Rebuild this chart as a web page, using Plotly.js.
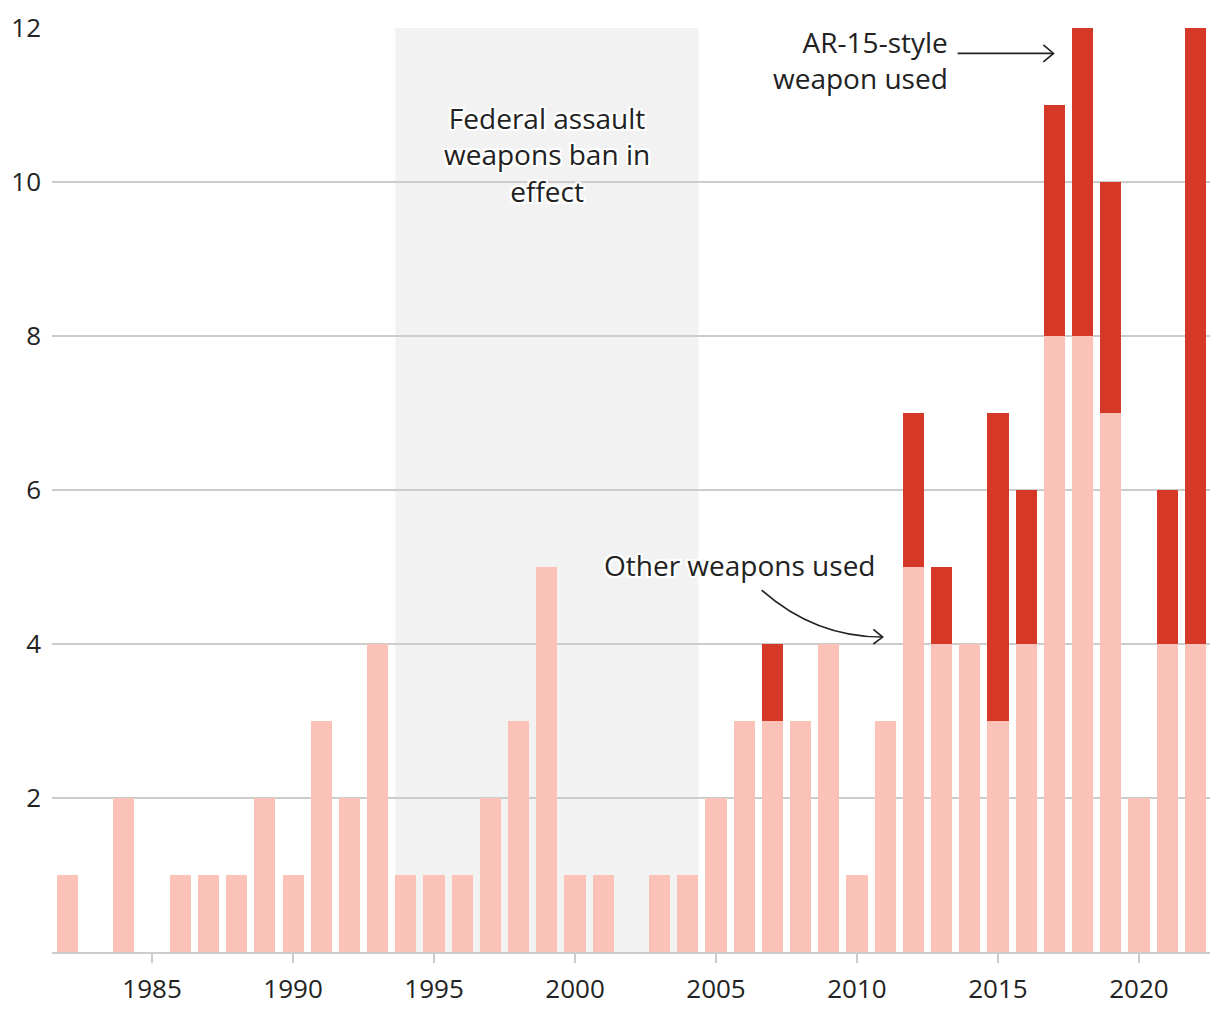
<!DOCTYPE html>
<html>
<head>
<meta charset="utf-8">
<script src="https://cdn.plot.ly/plotly-3.0.1.min.js"></script>
<style>html,body{margin:0;padding:0;background:#fff;}#chart{width:1220px;height:1020px;}</style>
</head>
<body>
<div id="chart"></div>
<script>
const years = [];
for (let y = 1982; y <= 2022; y++) years.push(y);
const otherWeapons = [1,0,2,0,1,1,1,2,1,3,2,4,1,1,1,2,3,5,1,1,0,1,1,2,3,3,3,4,1,3,5,4,4,3,4,8,8,7,2,4,4];
const ar15Weapons  = [0,0,0,0,0,0,0,0,0,0,0,0,0,0,0,0,0,0,0,0,0,0,0,0,0,1,0,0,0,0,2,1,0,4,2,3,4,3,0,2,8];
const yTicks = [2,4,6,8,10,12];
const xTicks = [1985,1990,1995,2000,2005,2010,2015,2020];
const banStart = 1994, banEnd = 2004;

const FONT = '"Open Sans", "Noto Sans", sans-serif';
const TXT = '#222';
const halo = '-2px -2px 0 #fff, 2px -2px 0 #fff, -2px 2px 0 #fff, 2px 2px 0 #fff, 0 -2px 0 #fff, 0 2px 0 #fff, -2px 0 0 #fff, 2px 0 0 #fff';
const barW = 0.75;
const TICK_SIZE = 26, ANN_SIZE = 28;

const traces = [
  {type:'bar', x: years, y: otherWeapons, width: barW, marker:{color:'#fbc3b7', line:{width:0}}, name:'Other weapons used', hoverinfo:'skip'},
  {type:'bar', x: years, y: ar15Weapons, width: barW, marker:{color:'#d63827', line:{width:0}}, name:'AR-15-style weapon used', hoverinfo:'skip'}
];

const arrowLine = {color:'#222', width:1.6};
const layout = {
  width:1220, height:1020,
  margin:{l:52, r:10, t:28, b:68},
  paper_bgcolor:'#fff', plot_bgcolor:'rgba(0,0,0,0)',
  barmode:'stack', showlegend:false,
  font:{family:FONT, size:TICK_SIZE, color:TXT},
  xaxis:{range:[1981.45, 2022.52], tickvals:xTicks, ticktext:xTicks.map(String),
    showgrid:false, zeroline:false, showline:true, linecolor:'#ccc', linewidth:2,
    ticks:'outside', ticklen:9, tickwidth:2, tickcolor:'#ccc', ticklabelstandoff:4,
    tickfont:{family:FONT, size:TICK_SIZE, color:TXT}, fixedrange:true},
  yaxis:{range:[0,12], tickvals:yTicks, ticktext:yTicks.map(String),
    showgrid:true, gridcolor:'#cccccc', gridwidth:1.3, zeroline:false, showline:false,
    ticks:'', ticklabelstandoff:10, tickfont:{family:FONT, size:TICK_SIZE, color:TXT}, fixedrange:true},
  shapes:[
    {type:'rect', xref:'x', yref:'paper', x0:banStart-barW/2, x1:banEnd+barW/2, y0:0, y1:1,
     fillcolor:'#f2f2f2', line:{width:0}, layer:'below'},
    // curved arrow for "Other weapons used"
    {type:'path', xref:'x', yref:'y', path:'M2006.62,4.70 Q2008.50,4.09 2010.91,4.09', line:arrowLine},
    {type:'path', xref:'x', yref:'y', path:'M2010.58,4.19 L2010.91,4.09 L2010.58,4.00', line:arrowLine},
    // straight arrow for AR-15
    {type:'path', xref:'x', yref:'y', path:'M2013.57,11.67 L2016.97,11.67', line:arrowLine},
    {type:'path', xref:'x', yref:'y', path:'M2016.61,11.78 L2016.97,11.67 L2016.61,11.56', line:arrowLine}
  ],
  annotations:[
    {xref:'x', yref:'y', x:1999, y:10.36, text:'Federal assault<br>weapons ban in<br>effect', showarrow:false,
     xanchor:'center', yanchor:'middle', align:'center', font:{family:FONT, size:ANN_SIZE, color:TXT, shadow:halo}},
    {xref:'x', yref:'y', x:2010.72, y:5.03, text:'Other weapons used', showarrow:false,
     xanchor:'right', yanchor:'middle', align:'right', font:{family:FONT, size:ANN_SIZE, color:TXT, shadow:halo}},
    {xref:'x', yref:'y', x:2013.30, y:11.58, text:'AR-15-style<br>weapon used', showarrow:false,
     xanchor:'right', yanchor:'middle', align:'right', font:{family:FONT, size:ANN_SIZE, color:TXT, shadow:halo}}
  ]
};

Plotly.newPlot('chart', traces, layout, {displayModeBar:false, staticPlot:true});
</script>
</body>
</html>
